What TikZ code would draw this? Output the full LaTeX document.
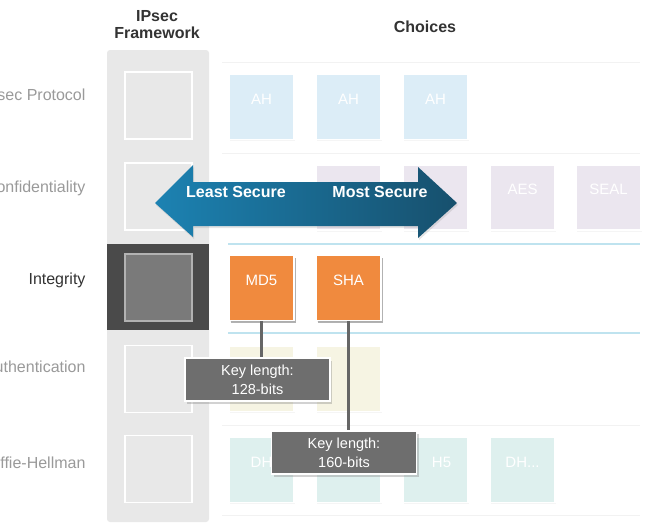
\documentclass[tikz,border=0pt]{standalone}
\usepackage{fontspec}
\setmainfont{Liberation Sans}
\usetikzlibrary{shadows, positioning}

\definecolor{fwgray}{HTML}{E8E8E8}
\definecolor{labgray}{HTML}{9A9A9A}
\definecolor{headgray}{HTML}{333333}
\definecolor{ahblue}{HTML}{DCEDF7}
\definecolor{encpurple}{HTML}{EBE6EF}
\definecolor{hashorange}{HTML}{F08A3E}
\definecolor{authyellow}{HTML}{F6F4E3}
\definecolor{dhteal}{HTML}{DEF0EE}
\definecolor{rowline}{HTML}{BFE3EF}
\definecolor{arrowL}{HTML}{1C82B2}
\definecolor{arrowR}{HTML}{17506D}

\begin{document}
\begin{tikzpicture}[x=1pt, y=-1pt,
    fwbox/.style={draw=white, line width=1.5pt, fill=fwgray, minimum width=67pt, minimum height=67pt},
    choice/.style={draw=white, line width=1.5pt, minimum width=65pt, minimum height=65pt,
        text=white, font=\fontsize{15}{17}\selectfont, text height=10pt, text depth=16pt,
        drop shadow={shadow xshift=1pt, shadow yshift=-1.5pt, opacity=0.08}},
    hash/.style={choice, fill=hashorange,
        drop shadow={shadow xshift=1.5pt, shadow yshift=-2pt, opacity=0.6}},
    rowlabel/.style={anchor=east, text=labgray, font=\fontsize{16}{18}\selectfont},
    header/.style={text=headgray, align=center, font=\bfseries\fontsize{16}{17}\selectfont},
    keybox/.style={draw=white, line width=1.5pt, fill=black!57, text=white, align=center,
        minimum width=145pt, minimum height=43pt, font=\fontsize{14.5}{19}\selectfont,
        drop shadow={shadow xshift=2pt, shadow yshift=-3pt, opacity=0.35}},
    keyline/.style={draw=black!60, line width=2.5pt},
    secure/.style={text=white, font=\bfseries\fontsize{16}{18}\selectfont}
  ]
    \useasboundingbox[fill=white] (0,0) rectangle (668,531);

    % Headers
    \node[header] (hfw) at (157,25) {IPsec\\Framework};
    \node[header] (hch) at (425,27) {Choices};

    % Faint row panels and row separators
    \foreach \y in {62,153,425,515}
        \draw[black!5, line width=1pt] (222,\y) -- (640,\y);
    \draw[rowline, line width=2pt] (228,244) -- (640,244);
    \draw[rowline, line width=2pt] (228,333) -- (640,333);

    % Framework column
    \fill[fwgray, rounded corners=3pt] (107,50) rectangle (209,522);
    \fill[black!71] (107,244) rectangle (209,330);
    \node[fwbox] (fw1) at (158.5,105.5) {};
    \node[fwbox] (fw2) at (158.5,196.5) {};
    \node[fwbox, fill=black!52, draw=black!30] (fw3) at (158.5,287.5) {};
    \node[fwbox] (fw4) at (158.5,379) {};
    \node[fwbox] (fw5) at (158.5,469) {};

    % Row labels
    \node[rowlabel] (lp) at (89,95) {IPsec Protocol};
    \node[rowlabel] (lc) at (89,188) {Confidentiality};
    \node[rowlabel, text=headgray] (li) at (89,280) {Integrity};
    \node[rowlabel] (la) at (89,367) {Authentication};
    \node[rowlabel] (ld) at (89,463) {Diffie-Hellman};

    % Choices: protocol
    \node[choice, fill=ahblue] (ah1) at (261.5,107) {AH};
    \node[choice, fill=ahblue] (ah2) at (348.5,107) {AH};
    \node[choice, fill=ahblue] (ah3) at (435.5,107) {AH};

    % Choices: confidentiality
    \node[choice, fill=encpurple] (enc2) at (348.5,197.5) {};
    \node[choice, fill=encpurple] (enc3) at (435.5,197.5) {};
    \node[choice, fill=encpurple] (aes) at (522.5,197.5) {AES};
    \node[choice, fill=encpurple] (seal) at (608.5,197.5) {SEAL};

    % Choices: integrity
    \node[hash] (md5) at (261.5,288) {MD5};
    \node[hash] (sha) at (348.5,288) {SHA};

    % Choices: authentication
    \node[choice, fill=authyellow] (au1) at (261.5,379) {};
    \node[choice, fill=authyellow] (au2) at (348.5,379) {};

    % Choices: Diffie-Hellman
    \node[choice, fill=dhteal] (dh1) at (261.5,470) {DH};
    \node[choice, fill=dhteal] (dh2) at (348.5,470) {};
    \node[choice, fill=dhteal] (dh3) at (435.5,470) {\hspace{12pt}H5};
    \node[choice, fill=dhteal] (dh4) at (522.5,470) {DH...};

    % Security arrow
    \shade[left color=arrowL, right color=arrowR,
        drop shadow={shadow xshift=1pt, shadow yshift=-2pt, opacity=0.2}]
        (155,203) -- (193,165) -- (193,182) -- (418,182) -- (418,167) -- (457,203)
        -- (418,238) -- (418,226) -- (193,226) -- (193,237) -- cycle;
    \node[secure] (least) at (236,192) {Least Secure};
    \node[secure] (most) at (380,192) {Most Secure};

    % Key length callouts
    \node[keybox] (key128) at (257.5,379.5) {Key length:\\128-bits};
    \node[keybox] (key160) at (344,452.5) {Key length:\\160-bits};
    \draw[keyline] (md5.south) -- (md5.south |- key128.north);
    \draw[keyline] (sha.south) -- (sha.south |- key160.north);
\end{tikzpicture}
\end{document}
